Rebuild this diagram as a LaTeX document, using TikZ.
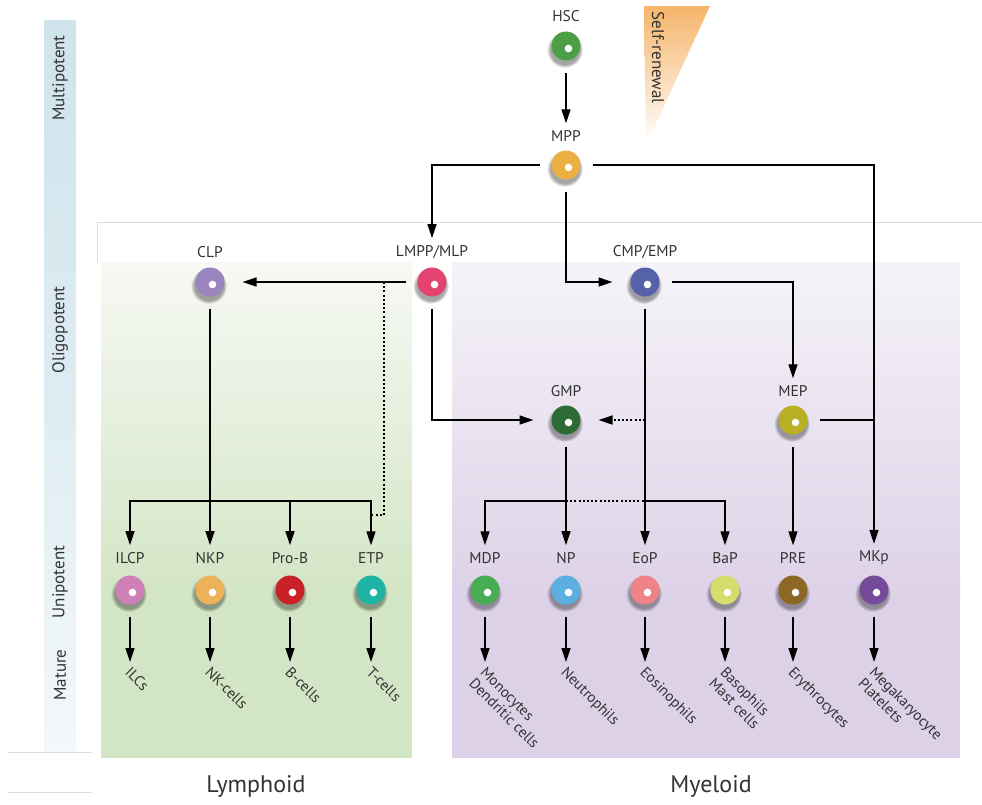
\documentclass[tikz,border=0pt]{standalone}
\usepackage{fontspec}
\setmainfont{PT Sans}
\usetikzlibrary{arrows.meta,shadows,fadings}

\definecolor{txt}{HTML}{333333}
\definecolor{frame}{HTML}{DCDCDC}
\definecolor{barT}{HTML}{CFE4EC}
\definecolor{barB}{HTML}{F3F8FA}
\definecolor{grnT}{HTML}{F7F9F4}
\definecolor{grnB}{HTML}{D2E5C4}
\definecolor{purT}{HTML}{F5F3F8}
\definecolor{purB}{HTML}{DDD1E7}
\definecolor{selfT}{HTML}{F5B56B}
\definecolor{cHSC}{HTML}{4C9F47}
\definecolor{cMPP}{HTML}{EBAF42}
\definecolor{cLMPP}{HTML}{E2436F}
\definecolor{cCLP}{HTML}{9A85BF}
\definecolor{cCMP}{HTML}{5561A8}
\definecolor{cGMP}{HTML}{2E6B37}
\definecolor{cMEP}{HTML}{B8B022}
\definecolor{cILCP}{HTML}{CF80B8}
\definecolor{cNKP}{HTML}{ECB25A}
\definecolor{cProB}{HTML}{C92127}
\definecolor{cETP}{HTML}{1EB3A3}
\definecolor{cMDP}{HTML}{48AC53}
\definecolor{cNP}{HTML}{5BB0E0}
\definecolor{cEoP}{HTML}{EE8488}
\definecolor{cBaP}{HTML}{D7DD6C}
\definecolor{cPRE}{HTML}{8D6824}
\definecolor{cMKp}{HTML}{754A99}

\tikzset{
  cell/.style={circle,fill=#1,minimum size=29pt,inner sep=0pt,outer sep=12pt,
    general shadow={fill=black,opacity=.35,shadow scale=1.25,shadow xshift=-1pt,shadow yshift=-3pt,
      path fading=circle with fuzzy edge 20 percent},
    path picture={\fill[white] ([xshift=2.5pt,yshift=-2.5pt]path picture bounding box.center) circle (3.8pt);}},
  ctext/.style={font=\fontsize{15.5}{17}\selectfont,text=txt,inner sep=1pt},
  mtext/.style={font=\fontsize{15}{16}\selectfont,text=txt,inner sep=1pt,anchor=north west,rotate=-45,align=left},
  stage/.style={font=\fontsize{17}{19}\selectfont,text=txt,rotate=90},
  lineage/.style={font=\fontsize{24}{26}\selectfont,text=txt},
  link/.style={line width=1.3pt},
  arr/.style={link,-{Triangle[length=14pt,width=9pt]},shorten >=6pt},
  dots/.style={link,dash pattern=on 2pt off 2.2pt}
}

\begin{document}
\begin{tikzpicture}[x=1pt,y=-1pt]
\useasboundingbox (0,0) rectangle (982,804);

% backgrounds
\shade[top color=barT,bottom color=barB,middle color=barT!60!barB] (44,20) rectangle (76,752);
\draw[frame,line width=0.8pt] (8,752) -- (92,752) (8,792) -- (92,792);
\draw[frame,line width=0.8pt] (97,262) -- (97,222) -- (982,222);
\shade[top color=grnT,bottom color=grnB] (101,262) rectangle (412,600.5);
\fill[grnB] (101,600) rectangle (412,758);
\shade[top color=purT,bottom color=purB] (452,262) rectangle (960,600.5);
\fill[purB] (452,600) rectangle (960,758);
\shade[top color=selfT,bottom color=white] (644,6) -- (710,6) -- (646,145) -- cycle;
\node[font=\fontsize{17}{19}\selectfont,text=txt,rotate=-90,anchor=west] (self) at (658,8) {Self-renewal};

% stages
\node[stage] (multi) at (60,78) {Multipotent};
\node[stage] (oligo) at (60,330) {Oligopotent};
\node[stage] (uni) at (60,582) {Unipotent};
\node[stage] (mat) at (60,675) {Mature};

% progenitors
\node[cell=cHSC] (hsc) at (566,46) {};
\node[ctext] (hscL) at (566,16) {HSC};
\node[cell=cMPP] (mpp) at (566,165) {};
\node[ctext] (mppL) at (566,136) {MPP};
\node[cell=cLMPP] (lmpp) at (432,282) {};
\node[ctext] (lmppL) at (432,252) {LMPP/MLP};
\node[cell=cCLP] (clp) at (210,282) {};
\node[ctext] (clpL) at (210,252) {CLP};
\node[cell=cCMP] (cmp) at (645,282) {};
\node[ctext] (cmpL) at (645,252) {CMP/EMP};
\node[cell=cGMP] (gmp) at (566,420) {};
\node[ctext] (gmpL) at (566,391) {GMP};
\node[cell=cMEP] (mep) at (793,420) {};
\node[ctext] (mepL) at (793,391) {MEP};

% unipotent
\node[cell=cILCP] (ilcp) at (130,590) {};
\node[ctext] (ilcpL) at (130,558) {ILCP};
\node[cell=cNKP] (nkp) at (210,590) {};
\node[ctext] (nkpL) at (210,558) {NKP};
\node[cell=cProB] (prob) at (290,590) {};
\node[ctext] (probL) at (290,558) {Pro-B};
\node[cell=cETP] (etp) at (371,590) {};
\node[ctext] (etpL) at (371,558) {ETP};
\node[cell=cMDP] (mdp) at (485,590) {};
\node[ctext] (mdpL) at (485,558) {MDP};
\node[cell=cNP] (np) at (566,590) {};
\node[ctext] (npL) at (566,558) {NP};
\node[cell=cEoP] (eop) at (645,590) {};
\node[ctext] (eopL) at (645,558) {EoP};
\node[cell=cBaP] (bap) at (725,590) {};
\node[ctext] (bapL) at (725,558) {BaP};
\node[cell=cPRE] (pre) at (793,590) {};
\node[ctext] (preL) at (793,558) {PRE};
\node[cell=cMKp] (mkp) at (874,590) {};
\node[ctext] (mkpL) at (874,558) {MKp};

% mature
\node[mtext] (ilcs) at (132,664) {ILCs};
\node[mtext] (nkc) at (212,664) {NK-cells};
\node[mtext] (bc) at (292,664) {B-cells};
\node[mtext] (tc) at (373,664) {T-cells};
\node[mtext] (mono) at (487,664) {Monocytes\\Dendritic cells};
\node[mtext] (neu) at (568,664) {Neutrophils};
\node[mtext] (eos) at (647,664) {Eosinophils};
\node[mtext] (baso) at (727,664) {Basophils\\Mast cells};
\node[mtext] (ery) at (795,664) {Erythrocytes};
\node[mtext] (mega) at (876,664) {Megakaryocyte\\Platelets};

\node[lineage] (lym) at (256,786) {Lymphoid};
\node[lineage] (mye) at (711,786) {Myeloid};

% junctions
\coordinate (lj) at (384,282);
\coordinate (lk) at (371,515);
\coordinate (cj) at (645,420);
\coordinate (mj) at (874,420);
\coordinate (gb) at (566,501);
\coordinate (eb) at (645,501);
\coordinate (cb) at (210,501);
\foreach \c/\x in {ilcp/130,nkp/210,prob/290,etp/371,mdp/485,np/566,eop/645,bap/725,pre/793,mkp/874}
  \coordinate (\c E) at (\x,662);

% connectors
\draw[arr] (hsc) -- (mppL);
\draw[arr] (mpp) -| (lmppL);
\draw[arr] (mpp) -| (mkpL);
\draw[arr] (mpp) |- (cmp);
\draw[arr] (lmpp) -- (clp);
\draw[dots] (lj) |- (lk);
\draw[arr] (lmpp) |- (gmp);
\draw[arr] (cmp) -- (eopL);
\draw[dots,-{Triangle[length=14pt,width=9pt]},shorten >=6pt] (cj) -- (gmp);
\draw[arr] (cmp) -| (mepL);
\draw[link] (mep) -- (mj);
\draw[arr] (mep) -- (preL);
\draw[arr] (gmp) -- (npL);
\draw[arr] (gb) -| (mdpL);
\draw[dots] (gb) -- (eb);
\draw[arr] (eb) -| (bapL);
\draw[arr] (clp) -- (nkpL);
\draw[arr] (cb) -| (ilcpL);
\draw[arr] (cb) -| (probL);
\draw[arr] (cb) -| (etpL);
\foreach \c in {ilcp,nkp,prob,etp,mdp,np,eop,bap,pre,mkp}
  \draw[arr,shorten >=0pt] (\c) -- (\c E);
\end{tikzpicture}
\end{document}
